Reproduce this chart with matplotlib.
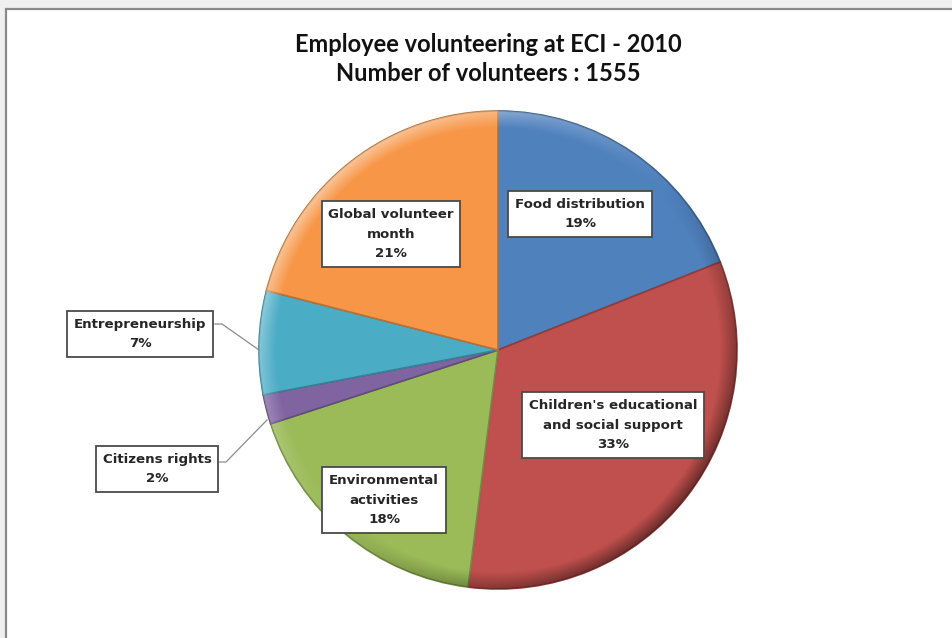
import numpy as np
import matplotlib.pyplot as plt
from matplotlib.patches import Rectangle, Circle
from matplotlib.colors import to_rgb

categories = ["Food distribution", "Children's educational\nand social support",
              "Environmental\nactivities", "Citizens rights", "Entrepreneurship",
              "Global volunteer\nmonth"]
shares = [19, 33, 18, 2, 7, 21]
colors = ["#4F81BD", "#C0504D", "#9BBB59", "#8064A2", "#4BACC6", "#F79646"]

title = "Employee volunteering at ECI - 2010\nNumber of volunteers : 1555"

W, H = 953, 638
fig = plt.figure(figsize=(W / 100, H / 100), dpi=100)
fig.patch.set_facecolor("#f0f0f0")
ax = fig.add_axes([0, 0, 1, 1])
ax.set_xlim(0, W)
ax.set_ylim(0, H)
ax.set_aspect("equal")
ax.axis("off")

# chart area frame
ax.add_patch(Rectangle((6, -10), W + 20, H - 9 + 10, facecolor="white",
                       edgecolor="#8a8a8a", linewidth=1.6, zorder=0))

cx, cy, r = 498, H - 350, 239


def darker(c, f=0.7):
    return tuple(v * f for v in to_rgb(c))


wedges, _ = ax.pie(shares, colors=colors, startangle=90, counterclock=False,
                   center=(cx, cy), radius=r, frame=True,
                   wedgeprops=dict(linewidth=1.2))
for w, c in zip(wedges, colors):
    w.set_edgecolor(darker(c, 0.75))
    w.set_zorder(2)

# soft bevel shading over the pie
n = 600
xs = np.linspace(cx - r, cx + r, n)
ys = np.linspace(cy - r, cy + r, n)
X, Y = np.meshgrid(xs, ys)
d = np.hypot(X - cx, Y - cy) / r
rim = np.clip((d - 0.93) / 0.07, 0, 1)
light = -((X - cx) - (Y - cy)) / (r * 1.414)
shade = np.zeros((n, n, 4))
shade[..., :3] = np.where(light[..., None] > 0, 1.0, 0.0)
shade[..., 3] = rim * np.abs(light) * 0.45
img = ax.imshow(shade, extent=(cx - r, cx + r, cy - r, cy + r), origin="lower",
                zorder=3, interpolation="bilinear")
img.set_clip_path(Circle((cx, cy), r, transform=ax.transData))
ax.set_xlim(0, W)
ax.set_ylim(0, H)

# data label boxes (centre in pixel coordinates, from top-left)
label_pos = [(580, 214), (613, 425), (384, 500), (157, 469), (140, 334), (391, 234)]
box = dict(boxstyle="square,pad=0.5", facecolor="white", edgecolor="#4a4a4a",
           linewidth=1.3)
for name, val, (lx, ly) in zip(categories, shares, label_pos):
    ax.text(lx, H - ly, f"{name}\n{val}%", ha="center", va="center",
            fontsize=9.6, fontweight="bold", family="DejaVu Sans", color="#262626",
            linespacing=1.65, bbox=box, zorder=5)

# leader lines for the two small slices
ax.plot([219, 226, 267], [H - 462, H - 462, H - 420], color="#8c8c8c", lw=0.9, zorder=4)
ax.plot([215, 222, 259], [H - 324, H - 324, H - 350], color="#8c8c8c", lw=0.9, zorder=4)

ax.text(488, H - 59, title, ha="center", va="center", fontsize=17,
        fontweight="bold", family="Lato", color="#111111", linespacing=1.3)

fig.savefig("out.png", dpi=100, facecolor=fig.get_facecolor())
